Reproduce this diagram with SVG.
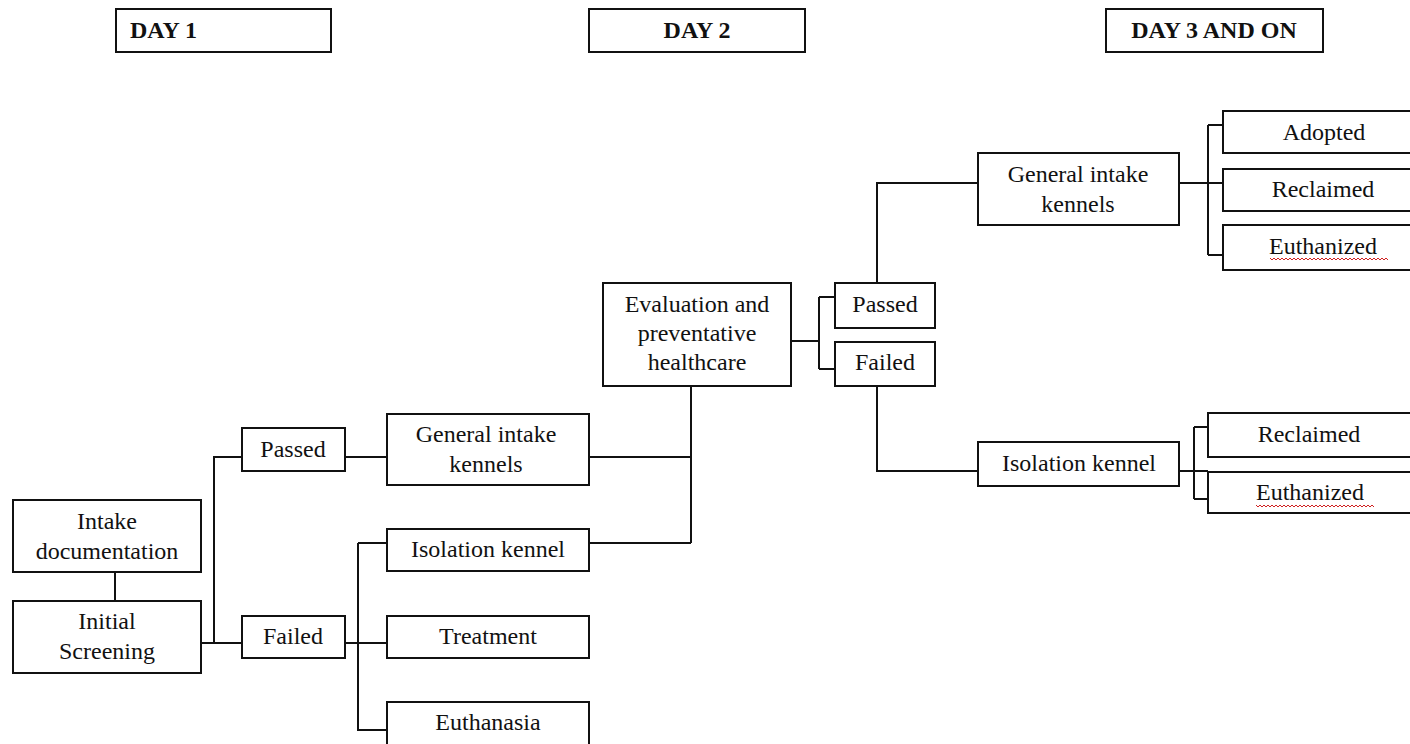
<svg xmlns="http://www.w3.org/2000/svg" width="1410" height="744" viewBox="0 0 1410 744">
<defs>
<style>
.box{fill:#fff;stroke:#111;stroke-width:2}
.hdr{fill:#fff;stroke:#111;stroke-width:2}
.t{font-family:"Liberation Serif","Times New Roman",serif;font-size:24px;fill:#111;text-anchor:middle}
.h{font-family:"Liberation Serif","Times New Roman",serif;font-size:24px;font-weight:bold;fill:#111}
.c{fill:none;stroke:#111;stroke-width:2}
.sq{fill:none;stroke:#d02020;stroke-width:1}
</style>
</defs>
<rect width="1410" height="744" fill="#fff"/>
<g id="connectors">
<path class="c" d="M115 572V601"/>
<path class="c" d="M201 643H242M214 643V457H242"/>
<path class="c" d="M345 457H387"/>
<path class="c" d="M345 643H387M358 543V730H387M358 543H387"/>
<path class="c" d="M589 457H691M589 543H691M691 386V543"/>
<path class="c" d="M791 341H819M819 297V369M819 297H835M819 369H835"/>
<path class="c" d="M877 283V183H978M877 386V471H978"/>
<path class="c" d="M1179 183H1223M1208 125V255M1208 125H1223M1208 255H1223"/>
<path class="c" d="M1179 471H1208M1194 427V499M1194 427H1208M1194 499H1208"/>
</g>
<g id="day1"><rect class="hdr" x="116" y="9" width="215" height="43"/><text class="h" x="130" y="38">DAY 1</text></g>
<g id="day2"><rect class="hdr" x="589" y="9" width="216" height="43"/><text class="h" x="697" y="38" text-anchor="middle">DAY 2</text></g>
<g id="day3"><rect class="hdr" x="1106" y="9" width="217" height="43"/><text class="h" x="1214" y="38" text-anchor="middle">DAY 3 AND ON</text></g>
<g id="intake-doc"><rect class="box" x="13" y="500" width="188" height="72"/><text class="t" x="107" y="529">Intake</text><text class="t" x="107" y="559">documentation</text></g>
<g id="initial-screening"><rect class="box" x="13" y="601" width="188" height="72"/><text class="t" x="107" y="629">Initial</text><text class="t" x="107" y="659">Screening</text></g>
<g id="passed1"><rect class="box" x="242" y="428" width="103" height="43"/><text class="t" x="293" y="457">Passed</text></g>
<g id="failed1"><rect class="box" x="242" y="616" width="103" height="42"/><text class="t" x="293" y="644">Failed</text></g>
<g id="gik1"><rect class="box" x="387" y="414" width="202" height="71"/><text class="t" x="486" y="442">General intake</text><text class="t" x="486" y="472">kennels</text></g>
<g id="iso1"><rect class="box" x="387" y="529" width="202" height="42"/><text class="t" x="488" y="557">Isolation kennel</text></g>
<g id="treatment"><rect class="box" x="387" y="616" width="202" height="42"/><text class="t" x="488" y="644">Treatment</text></g>
<g id="euthanasia"><rect class="box" x="387" y="702" width="202" height="50"/><text class="t" x="488" y="730">Euthanasia</text></g>
<g id="eval"><rect class="box" x="603" y="283" width="188" height="103"/><text class="t" x="697" y="312">Evaluation and</text><text class="t" x="697" y="341">preventative</text><text class="t" x="697" y="370">healthcare</text></g>
<g id="passed2"><rect class="box" x="835" y="283" width="100" height="45"/><text class="t" x="885" y="312">Passed</text></g>
<g id="failed2"><rect class="box" x="835" y="342" width="100" height="44"/><text class="t" x="885" y="370">Failed</text></g>
<g id="gik2"><rect class="box" x="978" y="153" width="201" height="72"/><text class="t" x="1078" y="182">General intake</text><text class="t" x="1078" y="212">kennels</text></g>
<g id="iso2"><rect class="box" x="978" y="442" width="201" height="44"/><text class="t" x="1079" y="471">Isolation kennel</text></g>
<g id="adopted"><rect class="box" x="1223" y="111" width="200" height="42"/><text class="t" x="1324" y="140">Adopted</text></g>
<g id="reclaimed1"><rect class="box" x="1223" y="169" width="200" height="42"/><text class="t" x="1323" y="197">Reclaimed</text></g>
<g id="euthanized1"><rect class="box" x="1223" y="225" width="200" height="45"/><text class="t" x="1323" y="254">Euthanized</text>
<path class="sq" d="M1270 258l2 2l2-2l2 2l2-2l2 2l2-2l2 2l2-2l2 2l2-2l2 2l2-2l2 2l2-2l2 2l2-2l2 2l2-2l2 2l2-2l2 2l2-2l2 2l2-2l2 2l2-2l2 2l2-2l2 2l2-2l2 2l2-2l2 2l2-2l2 2l2-2l2 2l2-2l2 2l2-2l2 2l2-2l2 2l2-2l2 2l2-2l2 2l2-2l2 2l2-2l2 2l2-2l2 2l2-2l2 2l2-2l2 2l2-2l2 2"/></g>
<g id="reclaimed2"><rect class="box" x="1208" y="413" width="215" height="44"/><text class="t" x="1309" y="442">Reclaimed</text></g>
<g id="euthanized2"><rect class="box" x="1208" y="472" width="215" height="41"/><text class="t" x="1310" y="500">Euthanized</text>
<path class="sq" d="M1256 505l2 2l2-2l2 2l2-2l2 2l2-2l2 2l2-2l2 2l2-2l2 2l2-2l2 2l2-2l2 2l2-2l2 2l2-2l2 2l2-2l2 2l2-2l2 2l2-2l2 2l2-2l2 2l2-2l2 2l2-2l2 2l2-2l2 2l2-2l2 2l2-2l2 2l2-2l2 2l2-2l2 2l2-2l2 2l2-2l2 2l2-2l2 2l2-2l2 2l2-2l2 2l2-2l2 2l2-2l2 2l2-2l2 2l2-2l2 2"/></g>
</svg>
